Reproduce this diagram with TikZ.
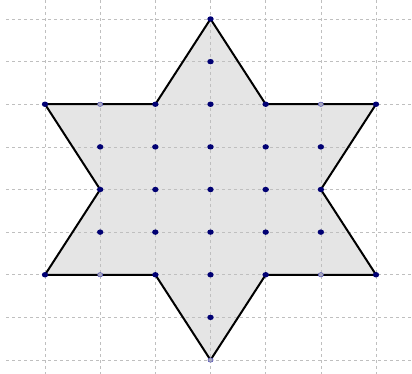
\documentclass[tikz,border=0pt]{standalone}
\begin{document}
\begin{tikzpicture}[x=1pt,y=-1pt,
  gridline/.style={gray!50,line width=0.7pt,dash pattern=on 3pt off 3pt},
  starline/.style={black,line width=2pt,line join=miter},
  dot/.style={fill=blue!45!black},
  lightdot/.style={draw=blue!40!gray,fill=blue!15!gray!60,line width=0.5pt}]
\useasboundingbox (0,0) rectangle (412,374);
\def\gx#1{45+55.17*#1}
\def\gy#1{19+42.625*#1}
% star vertices
\coordinate (T) at ({\gx{3}},{\gy{0}});
\coordinate (A) at ({\gx{4}},{\gy{2}});
\coordinate (R1) at ({\gx{6}},{\gy{2}});
\coordinate (B) at ({\gx{5}},{\gy{4}});
\coordinate (R2) at ({\gx{6}},{\gy{6}});
\coordinate (C) at ({\gx{4}},{\gy{6}});
\coordinate (Bo) at ({\gx{3}},{\gy{8}});
\coordinate (D) at ({\gx{2}},{\gy{6}});
\coordinate (L2) at ({\gx{0}},{\gy{6}});
\coordinate (E) at ({\gx{1}},{\gy{4}});
\coordinate (L1) at ({\gx{0}},{\gy{2}});
\coordinate (F) at ({\gx{2}},{\gy{2}});
\fill[gray!20] (T) -- (A) -- (R1) -- (B) -- (R2) -- (C) -- (Bo) -- (D) -- (L2) -- (E) -- (L1) -- (F) -- cycle;
% grid
\foreach \i in {0,...,6} \draw[gridline] ({\gx{\i}},0) -- ({\gx{\i}},374);
\foreach \j in {0,...,8} \draw[gridline] (6,{\gy{\j}}) -- (412,{\gy{\j}});
\draw[starline] (T) -- (A) -- (R1) -- (B) -- (R2) -- (C) -- (Bo) -- (D) -- (L2) -- (E) -- (L1) -- (F) -- cycle;
% dots
\foreach \i/\j in {3/0,3/1,0/2,2/2,3/2,4/2,6/2,1/3,2/3,3/3,4/3,5/3,1/4,2/4,3/4,4/4,5/4,1/5,2/5,3/5,4/5,5/5,0/6,2/6,3/6,4/6,6/6,3/7}
  \fill[dot] ({\gx{\i}},{\gy{\j}}) ellipse (3.2 and 2.7);
\foreach \i/\j in {1/2,5/2,1/6,5/6,3/8}
  \filldraw[lightdot] ({\gx{\i}},{\gy{\j}}) ellipse (2.6 and 2.2);
\end{tikzpicture}
\end{document}
